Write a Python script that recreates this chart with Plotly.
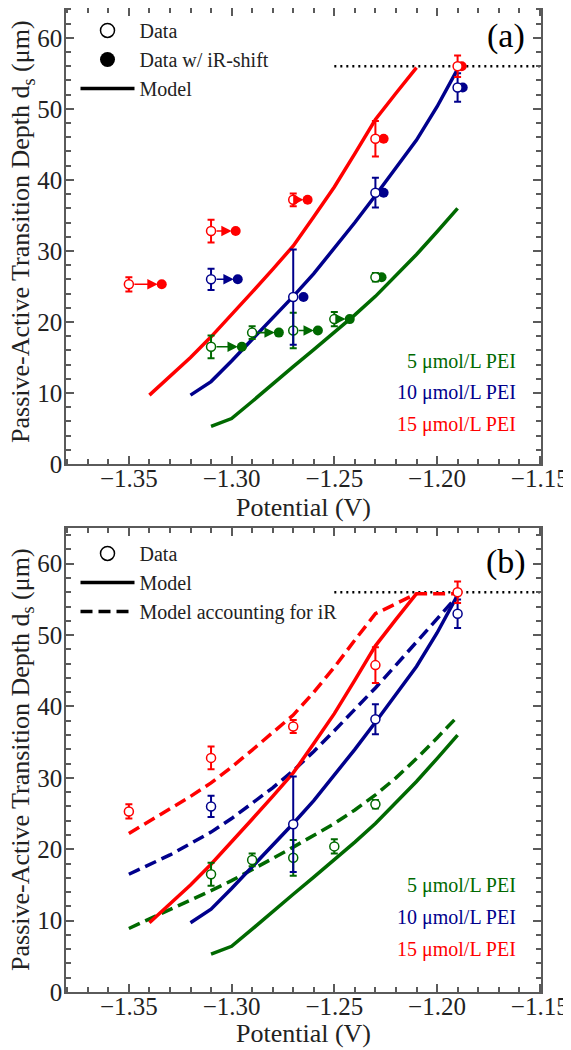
import plotly.graph_objects as go

# ---------------- data ----------------
RED = "rgb(255,0,0)"
BLUE = "rgb(0,0,140)"
GREEN = "rgb(0,105,0)"

# experimental data (same in both panels)
x_red = [-1.35, -1.31, -1.27, -1.23, -1.19]
y_red = [25.3, 32.8, 37.2, 45.8, 56.0]
e_red = [1.0, 1.6, 0.9, 2.5, 1.5]
xs_red = [-1.334, -1.298, -1.263, -1.226, -1.188]

x_blue = [-1.31, -1.27, -1.23, -1.19]
y_blue = [26.0, 23.5, 38.2, 53.0]
e_blue = [1.5, 6.7, 2.1, 2.0]
xs_blue = [-1.297, -1.265, -1.226, -1.1875]

x_green = [-1.31, -1.29, -1.27, -1.25, -1.23]
y_green = [16.5, 18.5, 18.8, 20.4, 26.3]
e_green = [1.6, 0.9, 2.5, 1.0, 0.6]
xs_green = [-1.295, -1.277, -1.258, -1.2425, -1.227]

# model curves
xm_red = [-1.34, -1.33, -1.32, -1.31, -1.30, -1.29, -1.28, -1.27, -1.26, -1.25, -1.24, -1.23, -1.22, -1.21]
ym_red = [9.7, 12.4, 15.0, 17.9, 21.0, 24.2, 27.4, 30.7, 34.8, 39.0, 43.7, 48.5, 52.2, 55.8]

xm_blue = [-1.32, -1.31, -1.30, -1.29, -1.28, -1.27, -1.26, -1.25, -1.24, -1.23, -1.22, -1.21, -1.20, -1.19]
ym_blue = [9.7, 11.6, 14.5, 17.5, 20.5, 23.6, 26.8, 30.4, 34.0, 37.8, 41.6, 45.6, 50.3, 55.6]

xm_green = [-1.31, -1.30, -1.29, -1.28, -1.27, -1.26, -1.25, -1.24, -1.23, -1.22, -1.21, -1.20, -1.19]
ym_green = [5.3, 6.4, 8.8, 11.3, 13.7, 16.1, 18.5, 21.0, 23.6, 26.5, 29.5, 32.7, 36.0]

# model accounting for iR (panel b)
xd = [-1.35, -1.34, -1.33, -1.32, -1.31, -1.30, -1.29, -1.28, -1.27, -1.26, -1.25,
      -1.24, -1.23, -1.22, -1.21, -1.20, -1.19]
yd_red = [22.2, 23.9, 25.6, 27.4, 29.3, 31.5, 33.9, 36.3, 38.8, 42.0, 45.5, 49.3, 53.0, 54.4, 55.8, 55.8, 55.8]
yd_blue = [16.5, 17.8, 19.2, 20.8, 22.4, 24.3, 26.4, 28.6, 31.0, 33.7, 36.6, 39.6, 42.6, 45.8, 49.0, 52.2, 55.5]
yd_green = [8.9, 10.2, 11.6, 12.9, 14.2, 15.6, 17.1, 18.7, 20.3, 21.9, 23.6, 25.5, 27.6, 30.0, 32.7, 35.6, 38.6]

# saturation depth (dotted)
x_sat = [-1.25, -1.15]
y_sat = [56, 56]

x_ticks = [-1.35, -1.30, -1.25, -1.20, -1.15]
y_ticks = [0, 10, 20, 30, 40, 50, 60]

pei_labels = ["5 μmol/L PEI", "10 μmol/L PEI", "15 μmol/L PEI"]
pei_colors = [GREEN, BLUE, RED]

FONT = "Liberation Serif"
series = [
    (x_green, y_green, e_green, xs_green, xm_green, ym_green, yd_green, GREEN),
    (x_blue, y_blue, e_blue, xs_blue, xm_blue, ym_blue, yd_blue, BLUE),
    (x_red, y_red, e_red, xs_red, xm_red, ym_red, yd_red, RED),
]

fig = go.Figure()

for panel, (xa, ya) in enumerate([("x", "y"), ("x2", "y2")]):
    # dotted saturation line
    fig.add_trace(go.Scatter(x=x_sat, y=y_sat, mode="lines", xaxis=xa, yaxis=ya,
                             line=dict(color="black", width=2.5, dash="2px,4px"),
                             showlegend=False, hoverinfo="skip"))
    for xo, yo, eo, xs, xm, ym, yd, col in series:
        fig.add_trace(go.Scatter(x=xm, y=ym, mode="lines", xaxis=xa, yaxis=ya,
                                 line=dict(color=col, width=3.5), showlegend=False))
        if panel == 1:
            fig.add_trace(go.Scatter(x=xd, y=yd, mode="lines", xaxis=xa, yaxis=ya,
                                     line=dict(color=col, width=3.5, dash="12px,6px"),
                                     showlegend=False))
    for xo, yo, eo, xs, xm, ym, yd, col in series:
        if panel == 0:
            fig.add_trace(go.Scatter(x=xs, y=yo, mode="markers", xaxis=xa, yaxis=ya,
                                     marker=dict(symbol="circle", size=10, color=col,
                                                 line=dict(width=0)),
                                     showlegend=False))
            for x0, x1, yy in zip(xo, xs, yo):
                if abs(x1 - x0) > 0.006:
                    fig.add_annotation(x=x1, y=yy, ax=x0, ay=yy, xref=xa, yref=ya,
                                       axref=xa, ayref=ya, text="", showarrow=True,
                                       arrowhead=2, arrowsize=1.3, arrowwidth=1.6,
                                       arrowcolor=col, standoff=4, startstandoff=4)
        fig.add_trace(go.Scatter(x=xo, y=yo, mode="markers", xaxis=xa, yaxis=ya,
                                 error_y=dict(type="data", array=eo, color=col,
                                              thickness=2, width=3.5),
                                 marker=dict(symbol="circle", size=9, color="white",
                                             line=dict(color=col, width=1.5)),
                                 showlegend=False))
    # PEI labels
    for lab, col, yv in zip(pei_labels, pei_colors, [14.5, 10.0, 5.6]):
        fig.add_annotation(x=-1.1607, y=yv + (0.4 if panel else 0), xref=xa, yref=ya,
                           text=lab, showarrow=False, xanchor="right",
                           font=dict(family=FONT, size=20, color=col))
    fig.add_annotation(x=-1.1665, y=60.2, xref=xa, yref=ya,
                       text="(a)" if panel == 0 else "(b)", showarrow=False,
                       font=dict(family=FONT, size=34, color="black"))

# legend dummies
fig.add_trace(go.Scatter(x=[None], y=[None], mode="markers", name="Data", legend="legend",
                         marker=dict(symbol="circle", size=14, color="white",
                                     line=dict(color="black", width=1.5))))
fig.add_trace(go.Scatter(x=[None], y=[None], mode="markers", name="Data w/ iR-shift",
                         legend="legend",
                         marker=dict(symbol="circle", size=15, color="black")))
fig.add_trace(go.Scatter(x=[None], y=[None], mode="lines", name="Model", legend="legend",
                         line=dict(color="black", width=3.5)))
fig.add_trace(go.Scatter(x=[None], y=[None], mode="markers", name="Data", legend="legend2",
                         xaxis="x2", yaxis="y2",
                         marker=dict(symbol="circle", size=14, color="white",
                                     line=dict(color="black", width=1.5))))
fig.add_trace(go.Scatter(x=[None], y=[None], mode="lines", name="Model", legend="legend2",
                         xaxis="x2", yaxis="y2",
                         line=dict(color="black", width=3.5)))
fig.add_trace(go.Scatter(x=[None], y=[None], mode="lines", name="Model accounting for iR",
                         legend="legend2", xaxis="x2", yaxis="y2",
                         line=dict(color="black", width=3.5, dash="12px,6px")))

axcol = "rgb(90,90,90)"
tickfont = dict(family=FONT, size=25, color="#222")
titlefont = dict(family=FONT, size=26, color="#222")

# axis titles as annotations for precise placement
for ytitle_y in [0.7724, 0.2358]:
    fig.add_annotation(x=-0.0926, y=ytitle_y, xref="paper", yref="paper",
                       text="Passive-Active Transition Depth d<sub>s</sub> (μm)",
                       textangle=-90, showarrow=False, xanchor="center", yanchor="middle",
                       font=titlefont)
for xtitle_y in [0.4919, -0.0417]:
    fig.add_annotation(x=0.5, y=xtitle_y, xref="paper", yref="paper",
                       text="Potential (V)", showarrow=False,
                       xanchor="center", yanchor="middle", font=titlefont)


def xaxis(anchor):
    return dict(range=[-1.3806, -1.1494], anchor=anchor, tickmode="array",
                tickvals=x_ticks, tickformat=".2f", automargin=False,
                ticks="inside", ticklen=8, tickwidth=1.5, tickcolor=axcol,
                ticklabelstandoff=-9,
                minor=dict(dtick=0.01, tick0=-1.35, ticks="inside", ticklen=5,
                           tickwidth=1.5, tickcolor=axcol),
                showline=True, linecolor=axcol, linewidth=1.5, mirror="ticks",
                showgrid=False, zeroline=False, tickfont=tickfont)


def yaxis(anchor, dom, top):
    return dict(range=[0, top], domain=dom, anchor=anchor, tickmode="array",
                tickvals=y_ticks, automargin=False,
                ticks="inside", ticklen=8, tickwidth=1.5, tickcolor=axcol,
                ticklabelstandoff=-3,
                minor=dict(dtick=2, tick0=0, ticks="inside", ticklen=5,
                           tickwidth=1.5, tickcolor=axcol),
                showline=True, linecolor=axcol, linewidth=1.5, mirror="ticks",
                showgrid=False, zeroline=False, tickfont=tickfont)


legfont = dict(family=FONT, size=20, color="#222")
fig.update_layout(
    width=563, height=1042,
    margin=dict(l=58, r=30, t=0, b=58),
    paper_bgcolor="white", plot_bgcolor="white",
    xaxis=xaxis("y"), yaxis=yaxis("x", [0.5366, 1.0], 64.2),
    xaxis2=xaxis("y2"), yaxis2=yaxis("x2", [0.0, 0.4715], 65),
    legend=dict(x=0.02, y=0.997, xanchor="left", yanchor="top", font=legfont,
                bgcolor="rgba(0,0,0,0)", itemwidth=54, tracegroupgap=0),
    legend2=dict(x=0.02, y=0.4655, xanchor="left", yanchor="top", font=legfont,
                 bgcolor="rgba(0,0,0,0)", itemwidth=54, tracegroupgap=0),
    showlegend=True,
)

fig.write_html("out.html")
